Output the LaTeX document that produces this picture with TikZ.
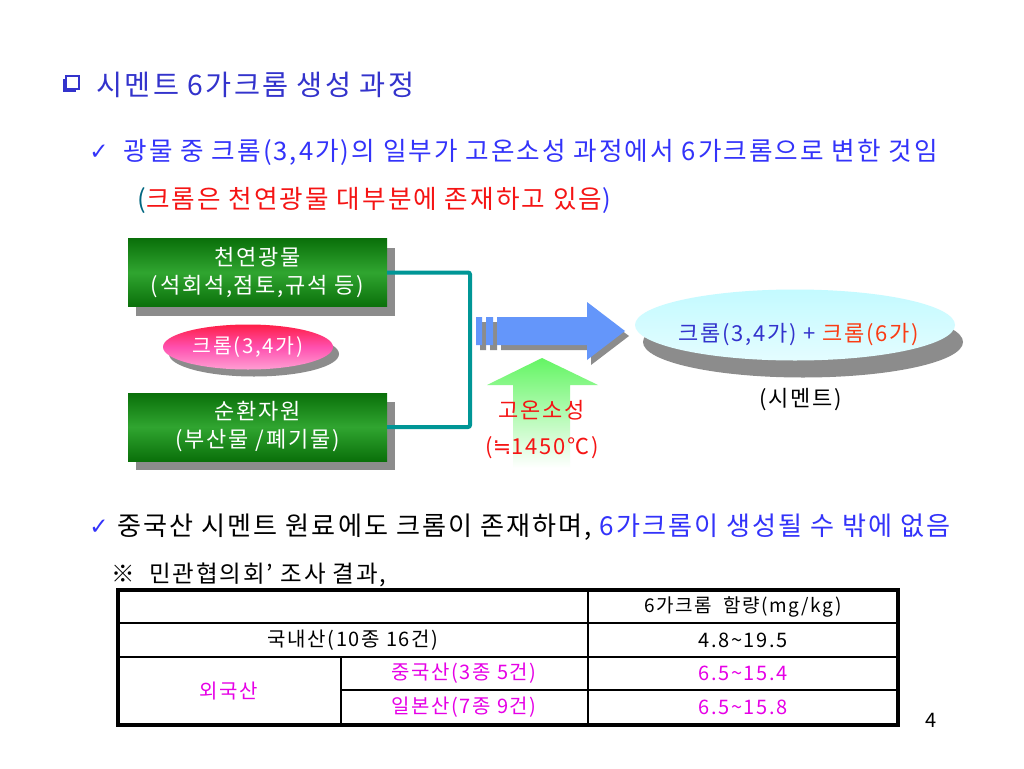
\documentclass[tikz,border=0pt]{standalone}
\usepackage{fontspec}
\setmainfont{Noto Sans CJK KR}[LetterSpace=8]
\newfontfamily\markFont{DejaVu Sans}
\usetikzlibrary{shapes.geometric,shadows}
\definecolor{titleblue}{RGB}{51,51,204}
\definecolor{textblue}{RGB}{51,51,250}
\definecolor{alertred}{RGB}{245,20,20}
\definecolor{oxidered}{RGB}{250,60,20}
\definecolor{parenteal}{RGB}{0,102,128}
\definecolor{boxgreendark}{RGB}{10,112,10}
\definecolor{boxgreenlight}{RGB}{48,165,48}
\definecolor{linkteal}{RGB}{0,150,150}
\definecolor{flowblue}{RGB}{100,150,250}
\definecolor{heatgreen}{RGB}{100,245,100}
\definecolor{diskcyan}{RGB}{195,250,255}
\definecolor{chromepink}{RGB}{255,80,175}
\definecolor{chromered}{RGB}{255,30,70}
\definecolor{shadowgray}{RGB}{140,140,140}
\definecolor{tablemagenta}{RGB}{230,0,230}
\newcommand{\titleFont}{\fontsize{28.3}{34}\selectfont}
\newcommand{\lineFont}{\fontsize{25.6}{30}\selectfont}
\newcommand{\boxFont}{\fontsize{22}{28}\selectfont}
\newcommand{\cellFont}{\fontsize{20}{24}\selectfont}
\tikzstyle{sourceBox} = [
 rectangle,
 minimum width=259pt,
 minimum height=68pt,
 top color=boxgreendark,
 bottom color=boxgreendark,
 middle color=boxgreenlight,
 text=white,
 align=center,
 font=\boxFont,
 copy shadow={fill=shadowgray, draw=none, shadow xshift=8pt, shadow yshift=-9pt}
]
\tikzstyle{chromeEllipse} = [
 ellipse,
 minimum width=170pt,
 minimum height=45pt,
 top color=chromered,
 bottom color=chromepink!55,
 middle color=chromepink,
 text=white,
 font=\fontsize{20.5}{26}\selectfont,
 copy shadow={fill=shadowgray, draw=none, shadow xshift=6pt, shadow yshift=-7pt}
]
\tikzstyle{cementDisk} = [
 ellipse,
 minimum width=320pt,
 minimum height=71pt,
 top color=diskcyan,
 bottom color=diskcyan!45,
 copy shadow={fill=shadowgray, draw=none, shadow xshift=8pt, shadow yshift=-17pt}
]
\tikzstyle{linkLine} = [
 draw=linkteal,
 line width=4pt,
 rounded corners=2pt
]
\tikzstyle{cell} = [
 font=\cellFont,
 inner sep=0pt
]
\begin{document}
\begin{tikzpicture}[x=1pt,y=-1pt]
  \useasboundingbox[fill=white] (0,0) rectangle (1024,768);
  \fill[titleblue] (63,79) rectangle (76,92);
  \draw[titleblue, fill=white, line width=1.2pt] (66,76) rectangle (79,89);
  \node[anchor=west, text=titleblue, font=\titleFont] (title) at (93,85) {시멘트 6가크롬 생성 과정};
  \node[text=textblue, font=\markFont\fontsize{23}{26}\selectfont] (checkA) at (99,152) {✓};
  \node[anchor=west, text=textblue, font=\lineFont] (lineA) at (120,152)
    {광물 중 크롬(3,4가)의 일부가 고온소성 과정에서 6가크롬으로 변한 것임};
  \node[anchor=west, font=\lineFont] (lineB) at (134,200)
    {\textcolor{parenteal}{(}\textcolor{alertred}{크롬은 천연광물 대부분에 존재하고 있음}\textcolor{textblue}{)}};
  \node[sourceBox] (natural) at (257.5,272.5) {천연광물\\(석회석,점토,규석 등)};
  \node[sourceBox] (recycled) at (257.5,427) {순환자원\\(부산물 /폐기물)};
  \node[chromeEllipse] (chrome) at (248,347) {크롬(3,4가)};
  \coordinate (joint) at (470,350);
  \draw[linkLine] (natural.east) -| (joint) |- (recycled.east);
  \shade[top color=heatgreen, bottom color=white]
    (542,358) -- (598,385) -- (570,385) -- (570,468) -- (513,468) -- (513,385) -- (487,385) -- cycle;
  \foreach \dx/\dy/\col in {4/5/shadowgray, 0/0/flowblue}
    \fill[\col, shift={(\dx,\dy)}]
      (497,317) -- (587,317) -- (587,302) -- (625,331) -- (587,360) -- (587,345) -- (497,345) -- cycle
      (476,317) rectangle (482,345)
      (486,317) rectangle (493,345);
  \node[text=alertred, font=\boxFont] (firing) at (542,410) {고온소성};
  \node[text=alertred, font=\boxFont] (temp) at (542,448) {({\markFont ≒}1450℃)};
  \node[cementDisk] (cement) at (795,325) {};
  \node[font=\boxFont] (mix) at (799,335)
    {\textcolor{titleblue}{크롬(3,4가) + }\textcolor{oxidered}{크롬(6가)}};
  \node[font=\boxFont] (cementLabel) at (801,400) {(시멘트)};
  \node[text=textblue, font=\markFont\fontsize{23}{26}\selectfont] (checkB) at (99,527) {✓};
  \node[anchor=west, font=\fontsize{26.1}{30}\selectfont] (lineC) at (114,527)
    {중국산 시멘트 원료에도 크롬이 존재하며,\ \textcolor{textblue}{6가크롬이 생성될 수 밖에 없음}};
  \node[anchor=west, font=\fontsize{23.5}{26}\selectfont] (survey) at (108,575)
    {※\ \ 민관협의회’ 조사 결과,};
  \draw[line width=1.5pt] (118,623) -- (898,623)
    (118,657) -- (898,657)
    (341,690) -- (898,690)
    (588,590) -- (588,725)
    (341,657) -- (341,725);
  \draw[line width=3.5pt] (118,590) rectangle (898,725);
  \node[cell, font=\fontsize{19}{22}\selectfont] (headValue) at (743,606.5) {6가크롬\ \ 함량(mg/kg)};
  \node[cell] (domestic) at (353,640) {국내산(10종 16건)};
  \node[cell] (domesticValue) at (743,640) {4.8\textasciitilde19.5};
  \node[cell, text=tablemagenta] (foreign) at (229,691) {외국산};
  \node[cell, text=tablemagenta] (china) at (464,673.5) {중국산(3종 5건)};
  \node[cell, text=tablemagenta] (chinaValue) at (743,673.5) {6.5\textasciitilde15.4};
  \node[cell, text=tablemagenta] (japan) at (464,707.5) {일본산(7종 9건)};
  \node[cell, text=tablemagenta] (japanValue) at (743,707.5) {6.5\textasciitilde15.8};
  \node[font=\cellFont] (page) at (931,720) {4};
\end{tikzpicture}
\end{document}
